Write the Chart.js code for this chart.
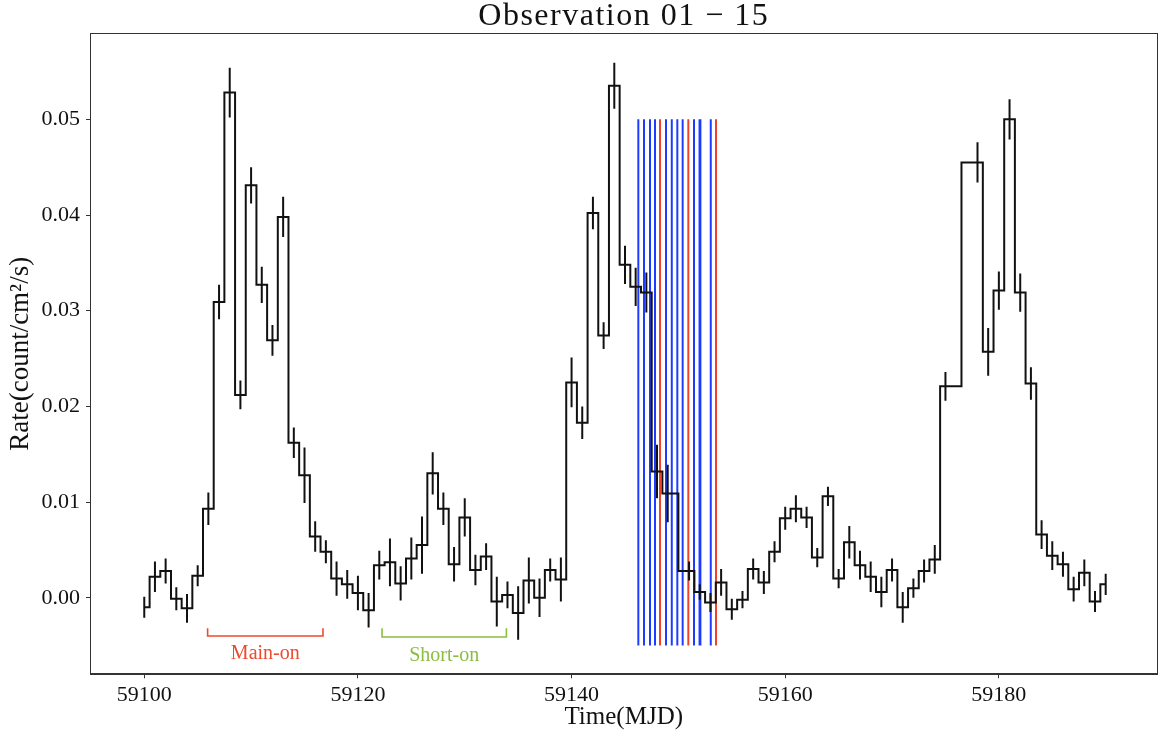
<!DOCTYPE html>
<html>
<head>
<meta charset="utf-8">
<script src="https://cdn.jsdelivr.net/npm/chart.js@4.4.1/dist/chart.umd.min.js"></script>
<style>
  html, body { margin: 0; padding: 0; background: #fff; }
</style>
</head>
<body>
<canvas id="lc" width="1159" height="742"></canvas>
<script>
// ---- light curve (MJD, rate, 1-sigma error) ----
const days = [
  59100, 59101, 59102, 59103, 59104, 59105, 59106, 59107, 59108, 59109,
  59110, 59111, 59112, 59113, 59114, 59115, 59116, 59117, 59118, 59119,
  59120, 59121, 59122, 59123, 59124, 59125, 59126, 59127, 59128, 59129,
  59130, 59131, 59132, 59133, 59134, 59135, 59136, 59137, 59138, 59139,
  59140, 59141, 59142, 59143, 59144, 59145, 59146, 59147, 59148, 59149,
  59151, 59152, 59153, 59154, 59155, 59156, 59157, 59158, 59159, 59160,
  59161, 59162, 59163, 59164, 59165, 59166, 59167, 59168, 59169, 59170,
  59171, 59172, 59173, 59174, 59175,
  59178, 59179, 59180, 59181, 59182, 59183, 59184, 59185, 59186, 59187,
  59188, 59189, 59190
];
const rates = [
  -0.0010, 0.0022, 0.0028, -0.0001, -0.0011, 0.0023, 0.0093, 0.0309, 0.0528, 0.0212,
  0.0431, 0.0327, 0.0269, 0.0398, 0.0162, 0.0128, 0.0064, 0.0048, 0.0020, 0.0014,
  0.0005, -0.0013, 0.0034, 0.0037, 0.0015, 0.0041, 0.0055, 0.0130, 0.0093, 0.0035,
  0.0084, 0.0029, 0.0043, -0.0004, 0.0003, -0.0016, 0.0018, 0.0000, 0.0029, 0.0019,
  0.0225, 0.0183, 0.0402, 0.0274, 0.0535, 0.0348, 0.0325, 0.0319, 0.0132, 0.0109,
  0.0028, 0.0006, -0.0005, 0.0016, -0.0012, -0.0002, 0.0030, 0.0016, 0.0048, 0.0083,
  0.0093, 0.0084, 0.0042, 0.0106, 0.0020, 0.0058, 0.0034, 0.0022, 0.0006, 0.0029,
  -0.0010, 0.0010, 0.0028, 0.0040, 0.0221,
  0.0455, 0.0257, 0.0321, 0.0500, 0.0319, 0.0224, 0.0066, 0.0044, 0.0035, 0.0009,
  0.0026, -0.0004, 0.0014
];
const errors = [
  0.0011, 0.0016, 0.0013, 0.0012, 0.0015, 0.0011, 0.0017, 0.0018, 0.0026, 0.0015,
  0.0019, 0.0019, 0.0016, 0.0021, 0.0016, 0.0029, 0.0016, 0.0012, 0.0018, 0.0015,
  0.0018, 0.0018, 0.0015, 0.0025, 0.0018, 0.0022, 0.0030, 0.0022, 0.0017, 0.0018,
  0.0020, 0.0016, 0.0014, 0.0026, 0.0014, 0.0028, 0.0024, 0.0020, 0.0012, 0.0023,
  0.0026, 0.0017, 0.0017, 0.0014, 0.0024, 0.0020, 0.0020, 0.0021, 0.0028, 0.0030,
  0.0010, 0.0008, 0.0010, 0.0014, 0.0011, 0.0009, 0.0011, 0.0012, 0.0011, 0.0012,
  0.0014, 0.0011, 0.0010, 0.0010, 0.0010, 0.0017, 0.0015, 0.0016, 0.0016, 0.0012,
  0.0016, 0.0010, 0.0012, 0.0015, 0.0015,
  0.0021, 0.0025, 0.0020, 0.0021, 0.0020, 0.0017, 0.0015, 0.0015, 0.0013, 0.0013,
  0.0014, 0.0011, 0.0011
];

// ---- observation epochs (vertical markers) ----
const blueEpochs = [59146.25, 59146.78, 59147.34, 59147.81, 59148.84, 59149.38,
                    59149.90, 59150.40, 59151.46, 59151.98, 59152.06, 59153.03];
const redEpochs = [59148.28, 59150.93, 59153.52];
const epochRange = [-0.005, 0.05];

// ---- state brackets ----
const bracketNames = ['Main-on', 'Short-on'];
const bracketStart = [59105.93, 59122.26];
const bracketEnd = [59116.73, 59133.90];
const bracketLow = [-0.0040, -0.0041];
const bracketHigh = [-0.0032, -0.0032];
const bracketLabelY = [-0.0059, -0.0061];

// ---- axes ----
const xTicks = [59100, 59120, 59140, 59160, 59180];
const yTicks = [0.00, 0.01, 0.02, 0.03, 0.04, 0.05];
const xRange = [59094.92, 59194.85];
const yRange = [-0.0080, 0.05899];

const titleText = 'Observation 01 \u2212 15';
const bracketColors = ['#ec4a2d', '#8bbd40'];
const SERIF = "'Liberation Serif', 'DejaVu Serif', serif";

Chart.defaults.font.family = SERIF;
Chart.defaults.color = '#111';

// build datasets from the arrays
const stepPts = days.map((d, i) => ({ x: d, y: rates[i] }));
const errPts = [];
days.forEach((d, i) => {
  errPts.push({ x: d, y: rates[i] - errors[i] });
  errPts.push({ x: d, y: rates[i] + errors[i] });
  errPts.push({ x: d, y: null });
});
const vlines = (epochs) => {
  const pts = [];
  epochs.forEach(e => {
    pts.push({ x: e, y: epochRange[0] });
    pts.push({ x: e, y: epochRange[1] });
    pts.push({ x: e, y: null });
  });
  return pts;
};
const bracketSets = bracketNames.map((name, i) => ({
  label: name,
  data: [
    { x: bracketStart[i], y: bracketHigh[i] },
    { x: bracketStart[i], y: bracketLow[i] },
    { x: bracketEnd[i], y: bracketLow[i] },
    { x: bracketEnd[i], y: bracketHigh[i] },
  ],
  borderColor: bracketColors[i],
  borderWidth: 1.6,
  pointRadius: 0,
  showLine: true,
  clip: false,
}));

// frame box, title over the plot area, bracket labels
const framePlugin = {
  id: 'frame',
  afterDraw(chart) {
    const { ctx, chartArea: a, scales } = chart;
    ctx.save();
    ctx.strokeStyle = '#333';
    ctx.lineWidth = 1;
    ctx.strokeRect(Math.round(a.left) + 0.5, Math.round(a.top) + 0.5,
                   Math.round(a.right - a.left) - 1, Math.round(a.bottom - a.top) - 1);

    ctx.fillStyle = '#111';
    ctx.font = '32px ' + SERIF;
    ctx.textAlign = 'center';
    ctx.textBaseline = 'middle';
    ctx.letterSpacing = '1.5px';
    ctx.fillText(titleText, (a.left + a.right) / 2, 17);
    ctx.letterSpacing = '0px';

    ctx.font = '20px ' + SERIF;
    bracketNames.forEach((name, i) => {
      ctx.fillStyle = bracketColors[i];
      const cx = scales.x.getPixelForValue((bracketStart[i] + bracketEnd[i]) / 2);
      ctx.fillText(name, cx, scales.y.getPixelForValue(bracketLabelY[i]));
    });
    ctx.restore();
  }
};

new Chart(document.getElementById('lc'), {
  type: 'scatter',
  data: {
    datasets: [
      {
        label: 'rate',
        data: stepPts,
        stepped: 'middle',
        showLine: true,
        borderColor: '#111',
        borderWidth: 2,
        pointRadius: 0,
      },
      {
        label: 'err',
        data: errPts,
        showLine: true,
        spanGaps: false,
        borderColor: '#111',
        borderWidth: 2,
        pointRadius: 0,
      },
      {
        label: 'red',
        data: vlines(redEpochs),
        showLine: true,
        spanGaps: false,
        borderColor: '#f0412b',
        borderWidth: 2,
        pointRadius: 0,
      },
      {
        label: 'blue',
        data: vlines(blueEpochs),
        showLine: true,
        spanGaps: false,
        borderColor: '#1e3cff',
        borderWidth: 2,
        pointRadius: 0,
      },
      ...bracketSets,
    ]
  },
  options: {
    responsive: false,
    animation: false,
    devicePixelRatio: 1,
    layout: { padding: { left: 0, right: 1.5, top: 33.3, bottom: 0 } },
    plugins: {
      legend: { display: false },
      tooltip: { enabled: false },
      title: { display: false },
    },
    scales: {
      x: {
        type: 'linear',
        min: xRange[0],
        max: xRange[1],
        afterBuildTicks: (s) => { s.ticks = xTicks.map(v => ({ value: v })); },
        afterFit: (s) => { s.height = 742 - 674.3; },
        ticks: {
          autoSkip: false,
          maxRotation: 0,
          padding: 4,
          color: '#111',
          font: { size: 22 },
          callback: (v) => String(v),
        },
        grid: { drawOnChartArea: false, tickLength: 4, color: '#333' },
        border: { display: true, color: '#333' },
        title: {
          display: true,
          text: 'Time(MJD)',
          color: '#111',
          font: { size: 25 },
          padding: { top: 0, bottom: 10 },
        },
      },
      y: {
        type: 'linear',
        min: yRange[0],
        max: yRange[1],
        afterBuildTicks: (s) => { s.ticks = yTicks.map(v => ({ value: v })); },
        afterFit: (s) => { s.width = 90; },
        ticks: {
          autoSkip: false,
          padding: 6,
          color: '#111',
          font: { size: 22 },
          callback: (v) => v.toFixed(2),
        },
        grid: { drawOnChartArea: false, tickLength: 4, color: '#333' },
        border: { display: true, color: '#333' },
        title: {
          display: true,
          text: 'Rate(count/cm\u00B2/s)',
          color: '#111',
          font: { size: 27 },
          padding: { top: 5, bottom: 0 },
        },
      },
    },
  },
  plugins: [framePlugin],
});
</script>
</body>
</html>
